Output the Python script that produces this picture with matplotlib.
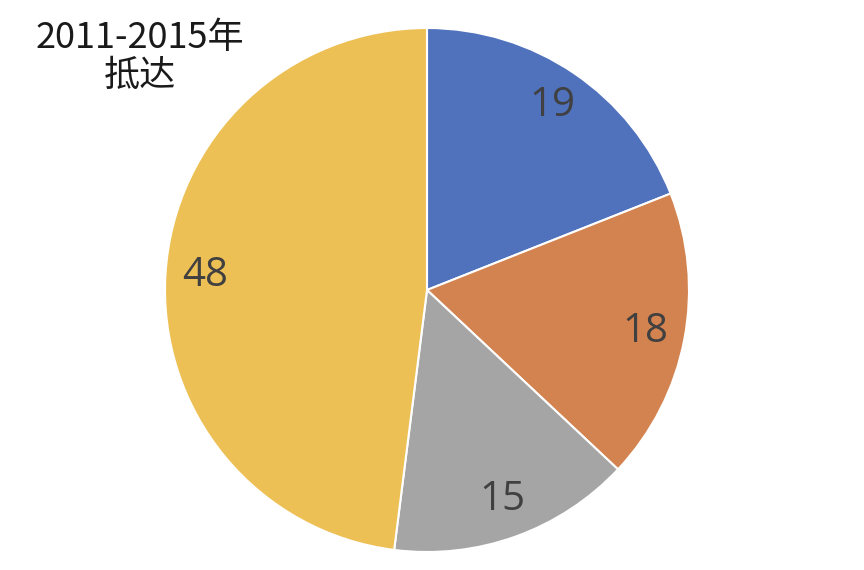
import matplotlib
matplotlib.use("Agg")
import matplotlib.pyplot as plt

labels = ["19", "18", "15", "48"]
values = [19, 18, 15, 48]
colors = ["#5072BD", "#D3834F", "#A5A5A5", "#EDC055"]
title = "2011-2015年\n抵达"

plt.rcParams['font.family'] = ['Noto Sans CJK SC', 'DejaVu Sans']

W, H = 864, 570
fig = plt.figure(figsize=(W / 100, H / 100), dpi=100)
cx, cy, r = 427, 290, 262
ax = fig.add_axes([(cx - r) / W, (H - cy - r) / H, 2 * r / W, 2 * r / H])
wedges, texts = ax.pie(values, labels=labels, colors=colors, startangle=90, counterclock=False,
                       labeldistance=0.85, radius=1,
                       wedgeprops=dict(edgecolor="white", linewidth=1.5),
                       textprops=dict(fontsize=29, color="#404040", ha="center", va="center",
                                      family=['Open Sans', 'DejaVu Sans']))
ax.set_xlim(-1, 1)
ax.set_ylim(-1, 1)
ax.set_aspect("equal")
ax.axis("off")

fig.text(140 / W, 1 - 57 / H, title, ha="center", va="center", fontsize=26, color="#1a1a1a",
         linespacing=1.1)

fig.savefig("out.png", dpi=100, facecolor="white")
